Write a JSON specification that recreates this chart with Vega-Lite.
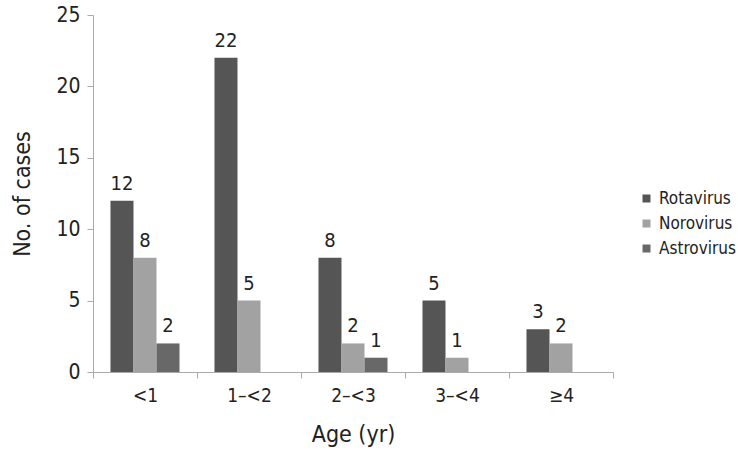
{
  "$schema": "https://vega.github.io/schema/vega-lite/v6.json",
  "autosize": "none",
  "width": 520,
  "height": 357,
  "padding": {"left": 93, "top": 15, "right": 125, "bottom": 86},
  "background": "white",
  "config": {
    "font": "'DejaVu Sans Condensed', 'Liberation Sans Narrow', 'Liberation Sans', sans-serif",
    "view": {"stroke": null}
  },
  "data": {
    "values": [
      {"age": "<1", "virus": "Rotavirus", "cases": 12},
      {"age": "<1", "virus": "Norovirus", "cases": 8},
      {"age": "<1", "virus": "Astrovirus", "cases": 2},
      {"age": "1–<2", "virus": "Rotavirus", "cases": 22},
      {"age": "1–<2", "virus": "Norovirus", "cases": 5},
      {"age": "1–<2", "virus": "Astrovirus", "cases": 0},
      {"age": "2–<3", "virus": "Rotavirus", "cases": 8},
      {"age": "2–<3", "virus": "Norovirus", "cases": 2},
      {"age": "2–<3", "virus": "Astrovirus", "cases": 1},
      {"age": "3–<4", "virus": "Rotavirus", "cases": 5},
      {"age": "3–<4", "virus": "Norovirus", "cases": 1},
      {"age": "3–<4", "virus": "Astrovirus", "cases": 0},
      {"age": "≥4", "virus": "Rotavirus", "cases": 3},
      {"age": "≥4", "virus": "Norovirus", "cases": 2},
      {"age": "≥4", "virus": "Astrovirus", "cases": 0}
    ]
  },
  "encoding": {
    "x": {
      "field": "age", "type": "nominal", "sort": null,
      "scale": {"paddingInner": 0, "paddingOuter": 0},
      "axis": {
        "title": "Age (yr)", "labelAngle": 0, "tickBand": "extent",
        "domainColor": "#aaaaaa", "tickColor": "#aaaaaa", "tickSize": 6,
        "labelFontSize": 19, "labelColor": "#222222", "labelPadding": 8,
        "titleFontSize": 23, "titleFontWeight": "normal", "titleColor": "#222222", "titlePadding": 18
      }
    },
    "xOffset": {
      "field": "virus", "type": "nominal", "sort": ["Rotavirus", "Norovirus", "Astrovirus"],
      "scale": {"paddingInner": 0, "paddingOuter": 0.76}
    },
    "y": {
      "field": "cases", "type": "quantitative",
      "scale": {"domain": [0, 25]},
      "axis": {
        "title": "No. of cases", "values": [0, 5, 10, 15, 20, 25], "grid": false,
        "domainColor": "#aaaaaa", "tickColor": "#aaaaaa", "tickSize": 6,
        "labelFontSize": 21, "labelColor": "#222222", "labelPadding": 7,
        "titleFontSize": 23, "titleFontWeight": "normal", "titleColor": "#222222", "titlePadding": 21
      }
    }
  },
  "layer": [
    {
      "mark": {"type": "bar"},
      "encoding": {
        "color": {
          "field": "virus", "type": "nominal",
          "sort": ["Rotavirus", "Norovirus", "Astrovirus"],
          "scale": {"domain": ["Rotavirus", "Norovirus", "Astrovirus"], "range": ["#555555", "#a2a2a2", "#686868"]},
          "legend": {
            "title": null, "orient": "none", "legendX": 545, "legendY": 175,
            "symbolType": "square", "symbolSize": 64, "symbolStrokeWidth": 0,
            "labelFontSize": 17, "labelColor": "#222222", "rowPadding": 7, "labelOffset": 4
          }
        }
      }
    },
    {
      "transform": [{"filter": "datum.cases > 0"}],
      "mark": {"type": "text", "baseline": "bottom", "dy": -7, "fontSize": 20, "color": "#222222"},
      "encoding": {
        "text": {"field": "cases", "type": "quantitative"}
      }
    }
  ]
}
